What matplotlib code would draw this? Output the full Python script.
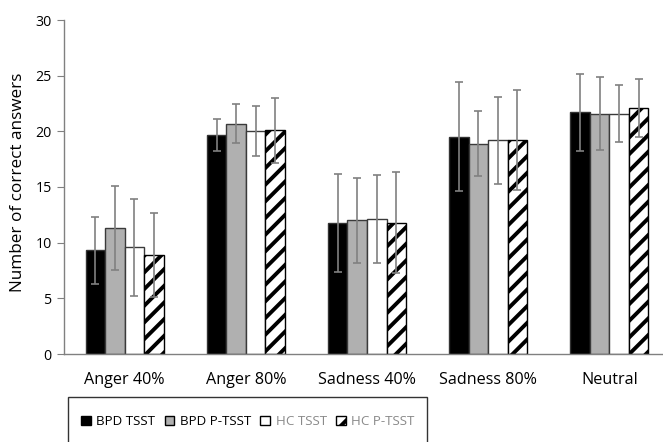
import matplotlib
matplotlib.use("Agg")
import matplotlib.pyplot as plt
import numpy as np
from matplotlib.patches import Patch, Rectangle

plt.rcParams['font.family'] = ['Open Sans', 'DejaVu Sans']
plt.rcParams['hatch.linewidth'] = 2.8

categories = ['Anger 40%', 'Anger 80%', 'Sadness 40%', 'Sadness 80%', 'Neutral']
series_names = ['BPD TSST', 'BPD P-TSST', 'HC TSST', 'HC P-TSST']
bpd_tsst = [9.3, 19.7, 11.8, 19.5, 21.7]
bpd_ptsst = [11.3, 20.7, 12.0, 18.9, 21.6]
hc_tsst = [9.6, 20.0, 12.1, 19.2, 21.6]
hc_ptsst = [8.9, 20.1, 11.8, 19.2, 22.1]
bpd_tsst_sd = [3.0, 1.45, 4.4, 4.9, 3.45]
bpd_ptsst_sd = [3.75, 1.75, 3.85, 2.95, 3.25]
hc_tsst_sd = [4.35, 2.25, 3.95, 3.9, 2.6]
hc_ptsst_sd = [3.8, 2.9, 4.55, 4.5, 2.6]
yticks = [0, 5, 10, 15, 20, 25, 30]

values = [bpd_tsst, bpd_ptsst, hc_tsst, hc_ptsst]
errors = [bpd_tsst_sd, bpd_ptsst_sd, hc_tsst_sd, hc_ptsst_sd]
facecolors = ['black', '#b0b0b0', 'white', 'white']
edgecolors = ['#333333', '#3a3a3a', '#3a3a3a', 'black']
hatches = [None, None, None, '//']
text_colors = ['black', 'black', '#8a8a8a', '#8a8a8a']

W, H = 663, 442
fig = plt.figure(figsize=(W/100, H/100), dpi=100)
ax = fig.add_axes([64/W, 88/H, (670-64)/W, (354-20)/H])

x = np.arange(len(categories))
w = 0.161
for i, (vals, errs) in enumerate(zip(values, errors)):
    pos = x + (i - 1.5) * w
    ax.bar(pos, vals, width=w, color=facecolors[i], edgecolor=edgecolors[i],
           linewidth=1.0, hatch=hatches[i], zorder=2)
    ax.errorbar(pos, vals, yerr=errs, fmt='none', ecolor='#808080',
                elinewidth=1.2, capsize=3.0, capthick=1.2, zorder=3)

ax.set_xlim(-0.5, len(categories) - 0.5)
ax.set_ylim(0, 30)
ax.set_yticks(yticks)
ax.set_xticks(x)
ax.set_xticklabels(categories, fontsize=11.6)
ax.tick_params(axis='x', length=0, pad=13)
ax.tick_params(axis='y', length=5, color='#808080', labelsize=10.2, pad=4)
ax.set_ylabel('Number of correct answers', fontsize=12.3)
ax.yaxis.set_label_coords(-0.063, 0.515)
for s in ['top', 'right']:
    ax.spines[s].set_visible(False)
for s in ['left', 'bottom']:
    ax.spines[s].set_color('#808080')
    ax.spines[s].set_linewidth(1.0)

# legend frame (extends below the figure edge, as in the reference)
frame = Rectangle((68/W, -20/H), (427-68)/W, (442-397+20)/H,
                  transform=fig.transFigure, facecolor='white',
                  edgecolor='#333333', linewidth=1.0, zorder=0)
fig.patches.append(frame)

handles = [Patch(facecolor=facecolors[i], edgecolor='black', hatch=hatches[i], linewidth=1.0)
           for i in range(4)]
leg = fig.legend(handles, series_names, loc='center left',
                 bbox_to_anchor=(81/W, 1 - 421.5/H),
                 ncol=4, frameon=False, fontsize=9.6,
                 handlelength=0.74, handleheight=0.74, handletextpad=0.4,
                 columnspacing=0.7, borderpad=0.0, borderaxespad=0.0)
for t, c in zip(leg.get_texts(), text_colors):
    t.set_color(c)

fig.savefig('out.png', dpi=100)
